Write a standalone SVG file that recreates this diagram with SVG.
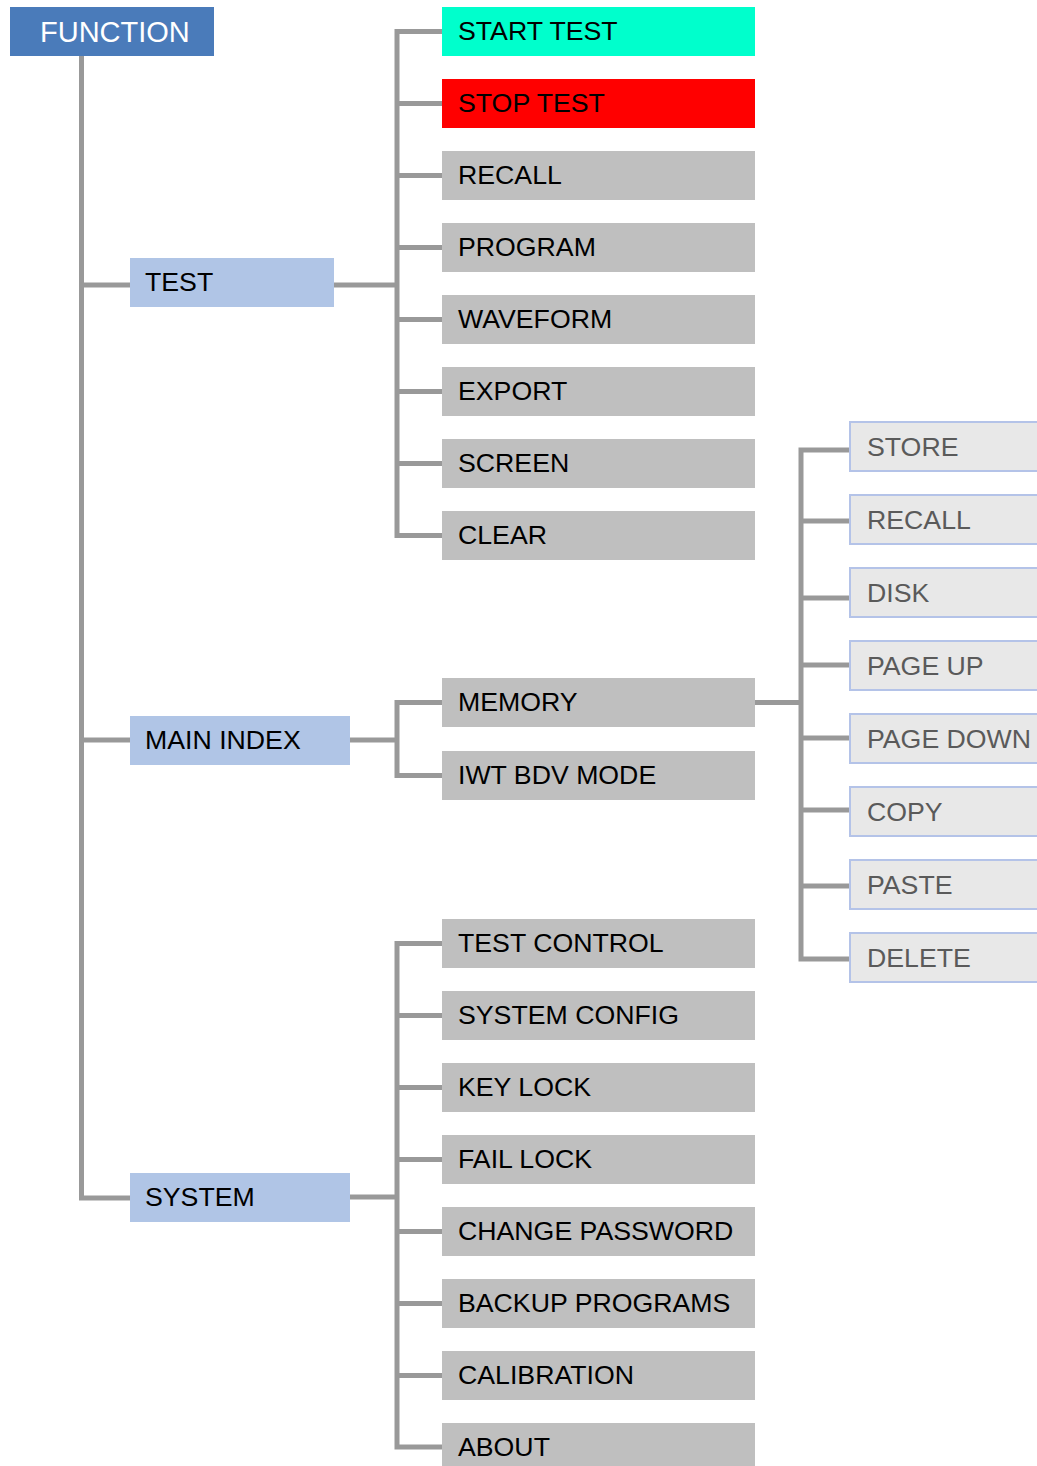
<svg xmlns="http://www.w3.org/2000/svg" width="1037" height="1466" viewBox="0 0 1037 1466">
<style>
text{font-family:"Liberation Sans",Arial,sans-serif;font-size:26.7px;fill:#000}
.root{fill:#4a7bba}
.root-t{fill:#fff;font-size:29px}
.mid{fill:#b0c5e6}
.leaf{fill:#bfbfbf}
.sub{fill:#e8e8e8;stroke:#b4c3e8;stroke-width:2}
.sub-t{fill:#5a5a5a}
.c{fill:none;stroke:#999;stroke-width:5}
</style>
<rect width="1037" height="1466" fill="#fff"/>
<g id="connectors">
<path class="c" d="M81.5 56V1198H130"/>
<path class="c" d="M81.5 285H130"/>
<path class="c" d="M81.5 740H130"/>
<path class="c" d="M334 285H397"/>
<path class="c" d="M442 31.5H397V535.5H442"/>
<path class="c" d="M397 103.5H442M397 175.5H442M397 247.5H442M397 319.5H442M397 391.5H442M397 463.5H442"/>
<path class="c" d="M350 740H397"/>
<path class="c" d="M442 702.5H397V775.5H442"/>
<path class="c" d="M755 702.5H801"/>
<path class="c" d="M850 450H801V959H850"/>
<path class="c" d="M801 521H850M801 598H850M801 665H850M801 738H850M801 810H850M801 886H850"/>
<path class="c" d="M350 1197H397"/>
<path class="c" d="M442 943.5H397V1447H442"/>
<path class="c" d="M397 1015.5H442M397 1087.5H442M397 1159.5H442M397 1231.5H442M397 1303.5H442M397 1375.5H442"/>
</g>
<g id="function"><rect class="root" x="10" y="7" width="204" height="49"/><text class="root-t" x="40" y="42">FUNCTION</text></g>
<g id="test"><rect class="mid" x="130" y="258" width="204" height="49"/><text x="145" y="291">TEST</text></g>
<g id="main-index"><rect class="mid" x="130" y="716" width="220" height="49"/><text x="145" y="749">MAIN INDEX</text></g>
<g id="system"><rect class="mid" x="130" y="1173" width="220" height="49"/><text x="145" y="1206">SYSTEM</text></g>
<g id="start-test"><rect x="442" y="7" width="313" height="49" fill="#00ffcc"/><text x="458" y="39.5">START TEST</text></g>
<g id="stop-test"><rect x="442" y="79" width="313" height="49" fill="#ff0000"/><text x="458" y="111.5">STOP TEST</text></g>
<g id="recall"><rect class="leaf" x="442" y="151" width="313" height="49"/><text x="458" y="184">RECALL</text></g>
<g id="program"><rect class="leaf" x="442" y="223" width="313" height="49"/><text x="458" y="256">PROGRAM</text></g>
<g id="waveform"><rect class="leaf" x="442" y="295" width="313" height="49"/><text x="458" y="328">WAVEFORM</text></g>
<g id="export"><rect class="leaf" x="442" y="367" width="313" height="49"/><text x="458" y="400">EXPORT</text></g>
<g id="screen"><rect class="leaf" x="442" y="439" width="313" height="49"/><text x="458" y="472">SCREEN</text></g>
<g id="clear"><rect class="leaf" x="442" y="511" width="313" height="49"/><text x="458" y="544">CLEAR</text></g>
<g id="memory"><rect class="leaf" x="442" y="678" width="313" height="49"/><text x="458" y="711">MEMORY</text></g>
<g id="iwt-bdv-mode"><rect class="leaf" x="442" y="751" width="313" height="49"/><text x="458" y="784">IWT BDV MODE</text></g>
<g id="test-control"><rect class="leaf" x="442" y="919" width="313" height="49"/><text x="458" y="952">TEST CONTROL</text></g>
<g id="system-config"><rect class="leaf" x="442" y="991" width="313" height="49"/><text x="458" y="1024">SYSTEM CONFIG</text></g>
<g id="key-lock"><rect class="leaf" x="442" y="1063" width="313" height="49"/><text x="458" y="1096">KEY LOCK</text></g>
<g id="fail-lock"><rect class="leaf" x="442" y="1135" width="313" height="49"/><text x="458" y="1168">FAIL LOCK</text></g>
<g id="change-password"><rect class="leaf" x="442" y="1207" width="313" height="49"/><text x="458" y="1240">CHANGE PASSWORD</text></g>
<g id="backup-programs"><rect class="leaf" x="442" y="1279" width="313" height="49"/><text x="458" y="1312">BACKUP PROGRAMS</text></g>
<g id="calibration"><rect class="leaf" x="442" y="1351" width="313" height="49"/><text x="458" y="1384">CALIBRATION</text></g>
<g id="about"><rect class="leaf" x="442" y="1423" width="313" height="49"/><text x="458" y="1456">ABOUT</text></g>
<g id="store"><rect class="sub" x="850" y="422" width="210" height="49"/><text class="sub-t" x="867" y="456">STORE</text></g>
<g id="mem-recall"><rect class="sub" x="850" y="495" width="210" height="49"/><text class="sub-t" x="867" y="529">RECALL</text></g>
<g id="disk"><rect class="sub" x="850" y="568" width="210" height="49"/><text class="sub-t" x="867" y="602">DISK</text></g>
<g id="page-up"><rect class="sub" x="850" y="641" width="210" height="49"/><text class="sub-t" x="867" y="675">PAGE UP</text></g>
<g id="page-down"><rect class="sub" x="850" y="714" width="210" height="49"/><text class="sub-t" x="867" y="748">PAGE DOWN</text></g>
<g id="copy"><rect class="sub" x="850" y="787" width="210" height="49"/><text class="sub-t" x="867" y="821">COPY</text></g>
<g id="paste"><rect class="sub" x="850" y="860" width="210" height="49"/><text class="sub-t" x="867" y="894">PASTE</text></g>
<g id="delete"><rect class="sub" x="850" y="933" width="210" height="49"/><text class="sub-t" x="867" y="967">DELETE</text></g>
</svg>
